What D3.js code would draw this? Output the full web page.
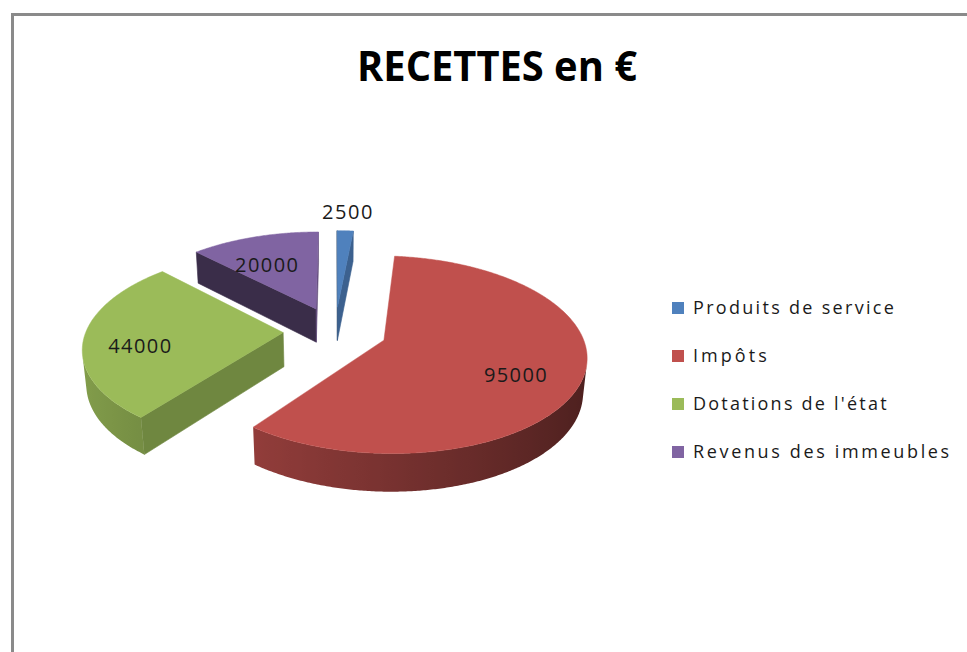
<!DOCTYPE html>
<html>
<head>
<meta charset="utf-8">
<script src="https://cdn.jsdelivr.net/npm/d3@7"></script>
<style>
  body { margin: 0; background: #fff; }
  text { font-family: "Open Sans", "Noto Sans", sans-serif; }
</style>
</head>
<body>
<svg id="chart" width="967" height="652"></svg>
<script>
// chart data
const title = "RECETTES en €";
const categories = ["Produits de service", "Impôts", "Dotations de l'état", "Revenus des immeubles"];
const values = [2500, 95000, 44000, 20000];
const colors = ["#4F81BD", "#C0504D", "#9BBB59", "#8064A2"];

const svg = d3.select("#chart");
const defs = svg.append("defs");

// chart frame (only top and left edges are in view)
svg.append("rect")
   .attr("x", 12.5).attr("y", 14.5)
   .attr("width", 1000).attr("height", 700)
   .attr("fill", "none")
   .attr("stroke", "#8a8a8a")
   .attr("stroke-width", 3);

svg.append("text")
   .attr("x", 497).attr("y", 81)
   .attr("text-anchor", "middle")
   .attr("font-size", 42)
   .attr("font-weight", "bold")
   .attr("fill", "#000")
   .attr("textLength", 280)
   .attr("lengthAdjust", "spacingAndGlyphs")
   .text(title);

// 3D view of the pie (unit radius), simple perspective camera
const cx = 335, cy = 331;
const tilt = 28.5 * Math.PI / 180;
const camDist = 6.06, focal = 1194;
const thick = 0.2, explode = 0.263;
const cam = { u: 0, v: -camDist * Math.cos(tilt), h: camDist * Math.sin(tilt) };

function project(u, v, h) {
  const Y = v * Math.sin(tilt) + h * Math.cos(tilt);
  const Z = camDist + v * Math.cos(tilt) - h * Math.sin(tilt);
  return [cx + u * focal / Z, cy - Y * focal / Z];
}

function shade(c, f) {
  const r = d3.rgb(c);
  return d3.rgb(r.r * f, r.g * f, r.b * f).formatHex();
}

const total = d3.sum(values);
const arcs = d3.pie().sort(null).value(d => d)(values);

const slices = arcs.map((a, i) => {
  const mid = (a.startAngle + a.endAngle) / 2;
  return { i, a, mid, ou: explode * Math.sin(mid), ov: explode * Math.cos(mid) };
});

// point of a slice at angle / radius / height
const pt = (s, ang, r, h) => project(s.ou + r * Math.sin(ang), s.ov + r * Math.cos(ang), h);
const line = d3.line();

const pieG = svg.append("g");

// far slices first
slices.slice().sort((p, q) => q.ov - p.ov).forEach(s => {
  const g = pieG.append("g");
  const col = colors[s.i];
  const a0 = s.a.startAngle, a1 = s.a.endAngle;

  // radial cut faces
  const cuts = [
    { ang: a0, nu: -Math.cos(a0), nv: Math.sin(a0), phi: a0 - Math.PI / 2 },
    { ang: a1, nu: Math.cos(a1), nv: -Math.sin(a1), phi: a1 + Math.PI / 2 }
  ];
  cuts.forEach(c => {
    const d = c.nu * (cam.u - s.ou) + c.nv * (cam.v - s.ov);
    if (d <= 0) return;
    const f = 0.577 + 0.179 * Math.sin(c.phi);
    const quad = [pt(s, c.ang, 0, 0), pt(s, c.ang, 1, 0), pt(s, c.ang, 1, -thick), pt(s, c.ang, 0, -thick)];
    g.append("path")
     .attr("d", line(quad) + "Z")
     .attr("fill", shade(col, f))
     .attr("stroke", shade(col, f))
     .attr("stroke-width", 0.6);
  });

  // outer wall: visible part only, one path with a horizontal gradient
  const n = Math.max(2, Math.ceil((a1 - a0) / (Math.PI / 360)));
  const angs = d3.range(n + 1).map(k => a0 + (a1 - a0) * k / n);
  const vis = angs.filter(t => {
    const pu = s.ou + Math.sin(t), pv = s.ov + Math.cos(t);
    return Math.sin(t) * (cam.u - pu) + Math.cos(t) * (cam.v - pv) > 0;
  });
  if (vis.length > 1) {
    const topPts = vis.map(t => pt(s, t, 1, 0));
    const botPts = vis.map(t => pt(s, t, 1, -thick)).reverse();
    const xs = topPts.map(p => p[0]);
    const xmin = d3.min(xs), xmax = d3.max(xs);
    const stops = vis.map((t, k) => ({
      off: (xs[k] - xmin) / (xmax - xmin || 1),
      c: shade(col, 0.62 - 0.23 * Math.sin(t))
    })).sort((p, q) => p.off - q.off);
    const grad = defs.append("linearGradient")
       .attr("id", "wall" + s.i)
       .attr("gradientUnits", "userSpaceOnUse")
       .attr("x1", xmin).attr("x2", xmax)
       .attr("y1", 0).attr("y2", 0);
    stops.filter((st, k) => k % 4 === 0 || k === stops.length - 1).forEach(st => {
      grad.append("stop").attr("offset", st.off).attr("stop-color", st.c);
    });
    g.append("path")
     .attr("d", line(topPts.concat(botPts)) + "Z")
     .attr("fill", `url(#wall${s.i})`);
  }

  // top face
  const top = [pt(s, 0, 0, 0)].concat(angs.map(t => pt(s, t, 1, 0)));
  g.append("path")
   .attr("d", line(top) + "Z")
   .attr("fill", col)
   .attr("stroke", col)
   .attr("stroke-width", 0.5);
});

// data labels
const labelG = svg.append("g");
slices.forEach(s => {
  const inside = values[s.i] / total >= 0.05;
  const p = inside ? pt(s, s.mid, 0.7, -0.05) : pt(s, s.mid, 1.3, 0);
  const t = labelG.append("text")
     .attr("x", p[0] - (inside ? 5 : 0)).attr("y", p[1])
     .attr("dy", "0.36em")
     .attr("text-anchor", "middle")
     .attr("font-size", 20)
     .attr("fill", "#1a1a1a")
     .text(values[s.i]);
  t.attr("textLength", t.node().getComputedTextLength() * 1.1);
});

// legend
const legend = svg.append("g").attr("transform", "translate(672,308)");
categories.forEach((c, i) => {
  const row = legend.append("g").attr("transform", `translate(0,${i * 48})`);
  row.append("rect")
     .attr("x", 0).attr("y", -6)
     .attr("width", 12).attr("height", 12)
     .attr("fill", colors[i]);
  const t = row.append("text")
     .attr("x", 21).attr("y", 0)
     .attr("dy", "0.36em")
     .attr("font-size", 18)
     .attr("fill", "#1a1a1a")
     .text(c);
  t.attr("textLength", t.node().getComputedTextLength() * 1.26);
});
</script>
</body>
</html>
